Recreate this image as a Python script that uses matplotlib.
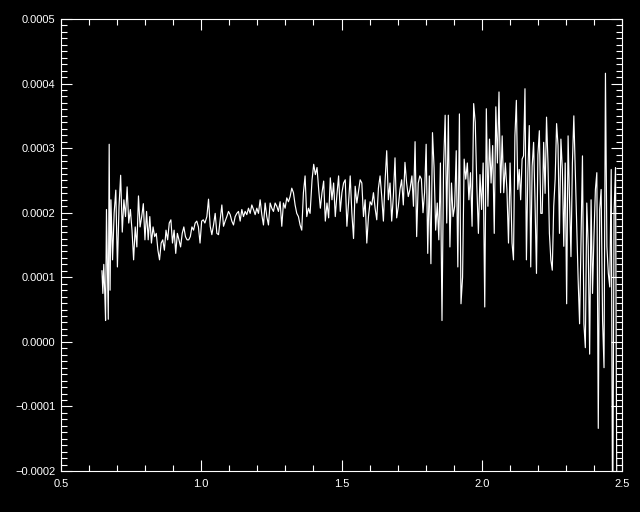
import numpy as np
import matplotlib
matplotlib.use("Agg")
import matplotlib.pyplot as plt
from matplotlib.ticker import MultipleLocator, FixedLocator, FixedFormatter

# Spectrum readings (flux in units of 1e-4), split into wavelength segments
wl_ranges = [(0.646, 0.675), (0.678, 1.013), (1.020, 1.388),
             (1.395, 1.744), (1.751, 2.101), (2.108, 2.482)]

flux_seg1 = [1.1, 0.75, 1.2, 0.8, 0.33, 2.05, 1.16, 0.35, 3.06, 0.8]
flux_seg2 = [2.2, 1.27, 2.0, 2.35, 1.16, 2.1, 2.58, 1.7, 2.2, 1.94, 2.4, 1.84,
             2.05, 1.73, 1.27, 1.78, 1.47, 2.26, 1.78, 1.94, 2.14, 1.58, 2.02,
             1.58, 1.94, 1.53, 1.78, 1.63, 1.68, 1.42, 1.27, 1.53, 1.58, 1.42,
             1.73, 1.58, 1.84, 1.89, 1.53, 1.73, 1.37, 1.68, 1.58, 1.47, 1.68,
             1.78, 1.63, 1.58, 1.58, 1.63, 1.78, 1.73, 1.84, 1.87, 1.78, 1.53,
             1.87, 1.89, 1.84]
flux_seg3 = [1.94, 2.21, 1.79, 1.66, 1.81, 1.99, 1.68, 1.66, 1.89, 2.12, 1.79,
             1.87, 1.94, 2.02, 1.97, 1.87, 1.81, 1.94, 1.99, 2.02, 1.87, 2.05,
             1.94, 2.02, 1.97, 2.07, 1.99, 2.12, 2.05, 1.97, 2.07, 1.99, 2.2,
             1.97, 1.81, 2.15, 1.94, 1.81, 2.15, 2.07, 2.02, 2.15, 2.1, 2.02,
             2.17, 1.79, 2.15, 2.07, 2.23, 2.17, 2.25, 2.38, 2.31, 2.12, 1.99,
             1.94, 1.81, 1.73, 2.31, 2.57, 1.94, 2.07, 1.99]
flux_seg4 = [2.51, 2.75, 2.59, 2.7, 2.36, 2.07, 2.31, 2.49, 1.87, 2.15, 1.92,
             2.54, 2.2, 2.46, 1.94, 2.28, 2.57, 2.02, 2.31, 2.46, 2.51, 1.79,
             2.15, 2.57, 1.99, 1.6, 2.41, 2.15, 2.33, 2.51, 2.46, 1.94, 2.2,
             1.53, 1.94, 2.17, 2.12, 2.31, 2.07, 1.89, 2.38, 2.57, 2.25, 1.87,
             2.49, 2.96, 2.2, 2.46, 1.87, 2.25, 2.85, 1.92, 2.1, 2.36, 2.51,
             2.12, 2.78, 2.46, 2.25, 2.36]
flux_seg5 = [2.57, 2.1, 3.1, 1.63, 2.46, 2.57, 2.52, 2.0, 2.31, 3.06, 1.37,
             2.57, 1.21, 3.24, 2.7, 1.73, 2.15, 1.58, 2.77, 0.33, 2.72, 3.51,
             1.84, 3.51, 1.47, 2.46, 1.94, 2.1, 2.96, 1.16, 3.53, 0.59, 1.0,
             2.83, 2.52, 2.77, 2.2, 2.62, 1.79, 3.69, 3.4, 2.41, 1.68, 2.59,
             2.05, 2.77, 0.54, 3.61, 2.1, 3.14, 2.46, 3.04, 1.68, 3.64, 2.77,
             3.87, 2.31, 3.19, 2.31, 2.77, 2.36, 1.53, 2.77]
flux_seg6 = [1.53, 1.27, 3.19, 3.74, 2.36, 2.67, 2.2, 2.83, 2.88, 3.92, 1.27,
             2.62, 3.35, 1.16, 2.72, 3.09, 2.15, 1.06, 2.9, 3.27, 1.99, 1.99,
             3.09, 2.3, 3.48, 2.77, 1.68, 1.27, 1.11, 2.1, 2.52, 3.38, 3.04,
             1.68, 3.14, 2.67, 1.48, 2.77, 0.59, 3.19, 2.2, 1.32, 2.77, 3.5,
             2.67, 1.89, 0.96, 0.28, 1.58, 2.88, 0.28, -0.09, 2.15, 1.48,
             -0.19, 2.2, 0.75, 1.63, 2.36, 2.62, -1.34, 2.05, 2.36, 0.33,
             -0.4, 4.16, 1.48, 1.06, 0.85, 2.67, -3.0, 2.0, 2.7, -3.0]

segments = [flux_seg1, flux_seg2, flux_seg3, flux_seg4, flux_seg5, flux_seg6]

x_ticks = [0.5, 1.0, 1.5, 2.0, 2.5]
x_tick_labels = ["0.5", "1.0", "1.5", "2.0", "2.5"]
y_ticks = [-0.0002, -0.0001, 0.0, 0.0001, 0.0002, 0.0003, 0.0004, 0.0005]
y_tick_labels = ["\u22120.0002", "\u22120.0001", "0.0000", "0.0001",
                 "0.0002", "0.0003", "0.0004", "0.0005"]

wl = np.concatenate([np.linspace(a, b, len(f)) for (a, b), f in zip(wl_ranges, segments)])
flux = np.concatenate([np.array(f) for f in segments]) * 1e-4

plt.rcParams['font.family'] = ['Liberation Sans', 'DejaVu Sans']

fig = plt.figure(figsize=(6.4, 5.12), dpi=100, facecolor='black')
ax = fig.add_axes([61 / 640, 41 / 512, 561 / 640, 452 / 512], facecolor='black')

ax.plot(wl, flux, color='white', lw=0.85)

ax.set_xlim(0.5, 2.5)
ax.set_ylim(-0.0002, 0.0005)

ax.xaxis.set_major_locator(FixedLocator(x_ticks))
ax.xaxis.set_major_formatter(FixedFormatter(x_tick_labels))
ax.xaxis.set_minor_locator(MultipleLocator(0.1))
ax.yaxis.set_major_locator(FixedLocator(y_ticks))
ax.yaxis.set_major_formatter(FixedFormatter(y_tick_labels))
ax.yaxis.set_minor_locator(MultipleLocator(0.00001))

for s in ax.spines.values():
    s.set_color('white')
    s.set_linewidth(0.8)

ax.tick_params(which='both', direction='in', colors='white',
               top=True, right=True, labelsize=8, width=0.8)
ax.tick_params(which='major', length=8)
ax.tick_params(which='minor', length=4.5)
ax.tick_params(axis='x', which='major', pad=6)
ax.tick_params(axis='y', which='major', pad=4)

fig.savefig('out.png', dpi=100, facecolor='black')
